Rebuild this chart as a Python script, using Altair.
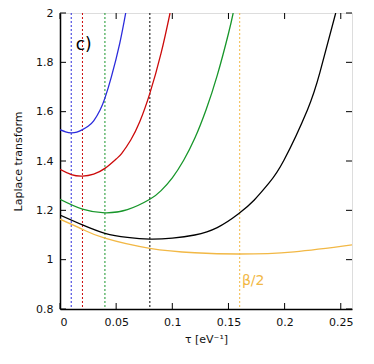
import altair as alt
import pandas as pd

# ---- data ----
series_names = ["blue", "red", "green", "black", "orange"]
series_colors = ["#2b2bdc", "#cc0a0a", "#17962a", "#000000", "#f2b845"]

blue_x = [0, 0.005, 0.01, 0.015, 0.02, 0.025, 0.03, 0.0357, 0.04, 0.0458, 0.0532, 0.0585]
blue_y = [1.527, 1.518, 1.514, 1.517, 1.527, 1.541, 1.563, 1.607, 1.655, 1.742, 1.877, 2.0]

red_x = [0, 0.01, 0.02, 0.03, 0.04, 0.05, 0.055, 0.063, 0.071, 0.08, 0.09, 0.098]
red_y = [1.366, 1.345, 1.339, 1.347, 1.37, 1.408, 1.431, 1.485, 1.559, 1.674, 1.837, 2.0]

green_x = [0, 0.02, 0.04, 0.06, 0.08, 0.09, 0.1, 0.11, 0.12, 0.13, 0.14, 0.15, 0.1542]
green_y = [1.245, 1.205, 1.19, 1.203, 1.245, 1.28, 1.332, 1.402, 1.492, 1.607, 1.747, 1.917, 2.0]

black_x = [0, 0.02, 0.04, 0.06, 0.08, 0.1, 0.12, 0.14, 0.159, 0.173, 0.186, 0.1995, 0.2203, 0.2315, 0.2455]
black_y = [1.181, 1.141, 1.107, 1.09, 1.083, 1.087, 1.10, 1.13, 1.186, 1.242, 1.31, 1.404, 1.607, 1.76, 2.0]

orange_x = [0, 0.02, 0.04, 0.08, 0.12, 0.16, 0.2085, 0.26]
orange_y = [1.164, 1.123, 1.087, 1.046, 1.028, 1.023, 1.032, 1.06]

vline_x = [0.01, 0.02, 0.04, 0.08, 0.16]
vline_series = ["blue", "red", "green", "black", "orange"]

x_ticks = [0, 0.05, 0.1, 0.15, 0.2, 0.25]
y_ticks = [0.8, 1.0, 1.2, 1.4, 1.6, 1.8, 2.0]

panel_label = "c)"
panel_label_pos = (0.014, 1.87)
beta_label = "β/2"
beta_label_pos = (0.162, 0.915)

# ---- build tables ----
rows = []
for name, xs_, ys_ in [("blue", blue_x, blue_y), ("red", red_x, red_y),
                       ("green", green_x, green_y), ("black", black_x, black_y),
                       ("orange", orange_x, orange_y)]:
    for a, b in zip(xs_, ys_):
        rows.append({"series": name, "x": a, "y": b})
curves = pd.DataFrame(rows)
vlines = pd.DataFrame({"x": vline_x, "series": vline_series})
xt = pd.DataFrame({"x": x_ticks})
yt = pd.DataFrame({"y": y_ticks})

W, H = 292, 296
FONT = "DejaVu Sans"
xs = alt.Scale(domain=[0, 0.26], nice=False, zero=False)
ys = alt.Scale(domain=[0.8, 2.0], nice=False, zero=False)
cs = alt.Scale(domain=series_names, range=series_colors)

x_axis = alt.Axis(values=x_ticks, format="~g", title="τ [eV⁻¹]", ticks=False, tickSize=0,
                  labelPadding=7, titlePadding=6, grid=False, domainColor="black",
                  domainWidth=1.5, labelFontSize=11, titleFontSize=11,
                  titleFontWeight="normal", labelColor="#111", titleColor="#111",
                  labelFont=FONT, titleFont=FONT)
y_axis = alt.Axis(values=y_ticks, format="~g", title="Laplace transform", ticks=False,
                  tickSize=0, labelPadding=7, titlePadding=12, grid=False,
                  domainColor="black", domainWidth=1.5, labelFontSize=11,
                  titleFontSize=11, titleFontWeight="normal", labelColor="#111",
                  titleColor="#111", labelFont=FONT, titleFont=FONT)

X = alt.X("x:Q", scale=xs, axis=x_axis)
Y = alt.Y("y:Q", scale=ys, axis=y_axis)

vrules = alt.Chart(vlines).mark_rule(strokeDash=[2, 2], strokeWidth=1).encode(
    x=X,
    color=alt.Color("series:N", scale=cs, legend=None),
)

lines = alt.Chart(curves).mark_line(strokeWidth=1.3, interpolate="natural", clip=True).encode(
    x=X,
    y=Y,
    color=alt.Color("series:N", scale=cs, legend=None),
    detail="series:N",
)

tick_bottom = alt.Chart(xt).mark_rule(color="black", strokeWidth=1).encode(
    x=X, y=alt.value(H), y2=alt.value(H - 6))
tick_top = alt.Chart(xt).mark_rule(color="black", strokeWidth=1).encode(
    x=X, y=alt.value(0), y2=alt.value(6))
tick_left = alt.Chart(yt).mark_rule(color="black", strokeWidth=1).encode(
    y=Y, x=alt.value(0), x2=alt.value(6))
tick_right = alt.Chart(yt).mark_rule(color="black", strokeWidth=1).encode(
    y=Y, x=alt.value(W), x2=alt.value(W - 6))

lab_c = alt.Chart(pd.DataFrame({"x": [panel_label_pos[0]], "y": [panel_label_pos[1]],
                                "t": [panel_label]})).mark_text(
    align="left", baseline="middle", fontSize=17, font=FONT, color="black").encode(
    x=X, y=Y, text="t:N")
lab_b = alt.Chart(pd.DataFrame({"x": [beta_label_pos[0]], "y": [beta_label_pos[1]],
                                "t": [beta_label]})).mark_text(
    align="left", baseline="middle", fontSize=14, font=FONT, color="#f2b845").encode(
    x=X, y=Y, text="t:N")

chart = alt.layer(vrules, lines, tick_bottom, tick_top, tick_left, tick_right, lab_c, lab_b).properties(
    width=W, height=H,
    autosize=alt.AutoSizeParams(type="none"),
    padding={"left": 52, "top": 5, "right": 14, "bottom": 47},
).configure_view(stroke="black", strokeWidth=1.5).configure(background="white")

chart.save("out.html", embed_options={"renderer": "svg", "actions": False})
